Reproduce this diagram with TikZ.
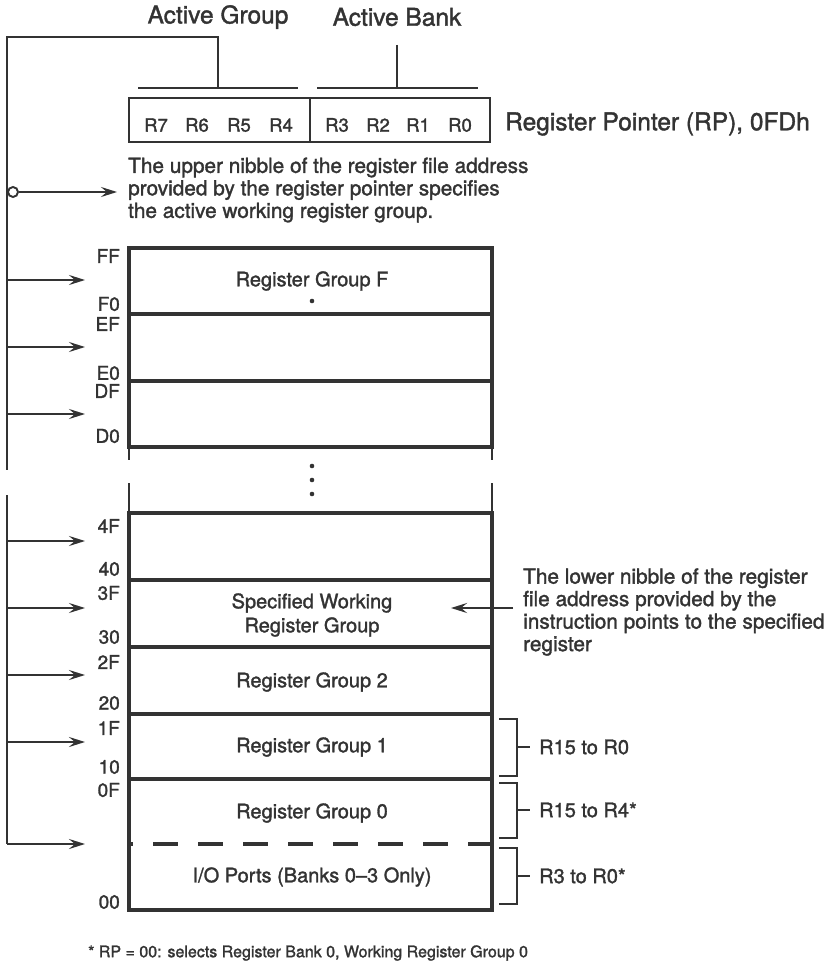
\documentclass[tikz,border=0pt]{standalone}
\usepackage{fontspec}
\setmainfont{TeX Gyre Heros}[FakeBold=1.5]
\usetikzlibrary{arrows.meta}
\definecolor{ink}{HTML}{333333}
\tikzset{
  thin line/.style={draw=ink, line width=2.4pt},
  thick line/.style={draw=ink, line width=3.8pt},
  arr/.style={draw=ink, line width=2.4pt, -{Stealth[length=16pt,width=10pt,inset=6pt]}},
  txt/.style={text=ink, inner sep=0pt, font=\fontsize{20}{24}\selectfont},
  rlab/.style={text=ink, inner sep=0pt, font=\fontsize{18.5}{20}\selectfont},
  big/.style={text=ink, inner sep=0pt, font=\fontsize{24.5}{28}\selectfont},
  addr/.style={text=ink, inner sep=0pt, anchor=east, font=\fontsize{19}{22}\selectfont},
  note/.style={text=ink, inner sep=0pt, anchor=west, align=left, font=\fontsize{20.8}{22.5}\selectfont},
}
\begin{document}
\begin{tikzpicture}[x=1pt,y=-1pt]
\useasboundingbox[fill=white] (0,0) rectangle (827,971);

% ---- top labels and register pointer
\node[big] (agl) at (218,17) {Active Group};
\node[big] (abl) at (397,17) {Active Bank};
\draw[thin line, line width=2.6pt] (129,98) rectangle (490,142);
\draw[thin line] (310,98) -- (310,142);
\foreach \n/\x in {R7/156,R6/197,R5/239,R4/281,R3/337,R2/378,R1/418,R0/460}
  \node[rlab] (rp\n) at (\x,125) {\n};
\node[big, anchor=west] (rpl) at (505,124) {Register Pointer (RP), 0FDh};

\coordinate (gL) at (138,88); \coordinate (gR) at (298,88); \coordinate (gM) at (218,88);
\coordinate (bL) at (317,88); \coordinate (bR) at (478,88); \coordinate (bM) at (397,88);
\coordinate (bT) at (397,45);
\draw[thin line] (gL) -- (gR);
\draw[thin line] (bL) -- (bR);
\draw[thin line] (bT) -- (bM);

% ---- bus on the left
\coordinate (busTop) at (7,37);
\coordinate (busBrk1) at (7,470);
\coordinate (busBrk2) at (7,495);
\draw[thin line] (gM) |- (busTop) -- (busBrk1);

% circle + note arrow
\node[circle, draw=ink, line width=1.9pt, fill=white, minimum size=10pt, inner sep=0pt] (circ) at (13,192) {};
\coordinate (noteTip) at (117,192);
\draw[arr] (circ) -- (noteTip);
\node[note] (upper) at (128,190) {The upper nibble of the register file address\\provided by the register pointer specifies\\the active working register group.};

% ---- register file box
\def\L{129}\def\R{492}
\draw[thick line] (\L,248) -- (\R,248);
\foreach \y in {314,381,447,513,580,647,714,779,910}
  \draw[thick line] (\L,\y) -- (\R,\y);
\draw[thick line, line cap=rect] (\L,248) -- (\L,447);
\draw[thick line, line cap=rect] (\R,248) -- (\R,447);
\draw[thick line, line cap=rect] (\L,513) -- (\L,910);
\draw[thick line, line cap=rect] (\R,513) -- (\R,910);
\draw[thin line] (\L,447) -- (\L,460);
\draw[thin line] (\R,447) -- (\R,460);
\draw[thin line] (\L,483) -- (\L,513);
\draw[thin line] (\R,483) -- (\R,513);
\draw[draw=ink, line width=4pt, dash pattern=on 25pt off 20pt, dash phase=21pt] (\L,844) -- (\R,844);

% dots
\foreach \y in {301,466,480,494}
  \fill[ink] (312,\y) circle (2.3pt);

% box labels
\node[txt] (gF) at (312,281) {Register Group F};
\node[txt, align=center, font=\fontsize{20}{24}\selectfont] (gS) at (312,615) {Specified Working\\Register Group};
\node[txt] (g2) at (312,682) {Register Group 2};
\node[txt] (g1) at (312,747) {Register Group 1};
\node[txt] (g0) at (312,813) {Register Group 0};
\node[txt] (gio) at (312,877) {I/O Ports (Banks 0--3 Only)};

% addresses
\foreach \t/\y in {FF/256,F0/304,EF/324,E0/373,DF/391,D0/436,4F/526,40/569,3F/593,30/637,2F/662,20/703,1F/728,10/767,0F/790,00/902}
  \node[addr] (a\t) at (120,\y) {\t};

% bus arrows
\coordinate (busEnd) at (7,844);
\draw[thin line] (busBrk2) -- (busEnd);
\foreach \y in {280,347,414,541,608,675,742}{
  \coordinate (s\y) at (7,\y);
  \coordinate (t\y) at (85,\y);
  \draw[arr] (s\y) -- (t\y);
}
\coordinate (t844) at (85,844);
\draw[arr] (busEnd) -- (t844);

% lower-nibble note
\coordinate (lnS) at (513,608);
\coordinate (lnT) at (451,608);
\draw[arr] (lnS) -- (lnT);
\node[note] (lower) at (523,612) {The lower nibble of the register\\file address provided by the\\instruction points to the specified\\register};

% brackets
\foreach \a/\b/\m/\t/\nm in {719/776/747/R15 to R0/b1,783/838/810/R15 to R4*/b2,848/904/876/R3 to R0*/b3}{
  \draw[thin line] (499,\a) -- (517,\a) -- (517,\b) -- (499,\b);
  \draw[thin line] (517,\m) -- (530,\m);
  \node[txt, anchor=west] (\nm) at (539,\m) {\t};
}

% footnote
\node[text=ink, inner sep=0pt, anchor=west, font=\fontsize{16}{18}\selectfont] (foot) at (88,953) {* RP = 00: selects Register Bank 0, Working Register Group 0};
\end{tikzpicture}
\end{document}
